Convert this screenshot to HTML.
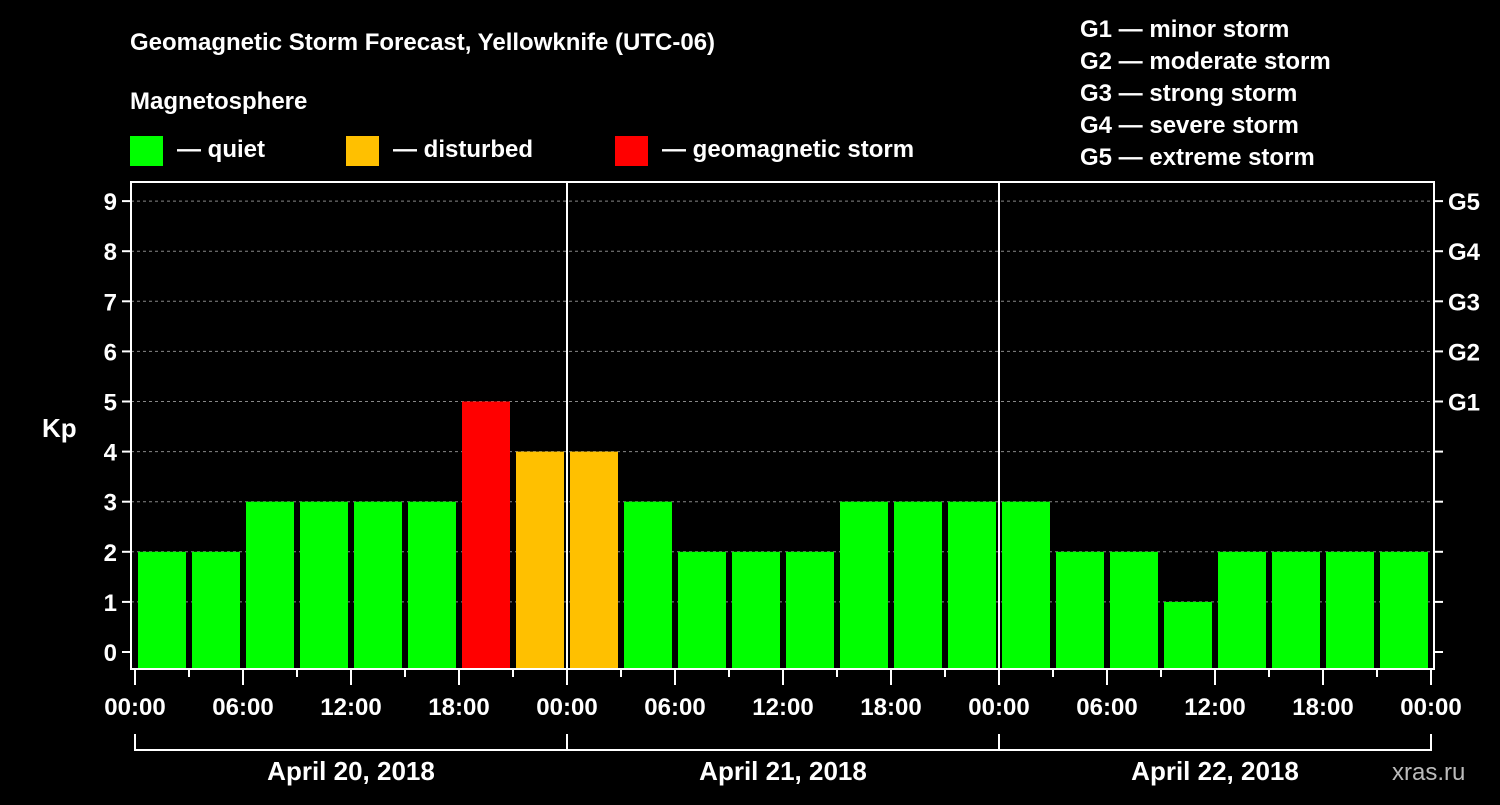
<!DOCTYPE html>
<html><head><meta charset="utf-8"><style>
body{margin:0;background:#000;width:1500px;height:800px;overflow:hidden}
svg text{font-family:"Liberation Sans",sans-serif;font-weight:bold;fill:#fff}
</style></head><body>
<svg id="c" width="1500" height="800">
<text x="130" y="50" font-size="24">Geomagnetic Storm Forecast, Yellowknife (UTC-06)</text>
<text x="130" y="109" font-size="24">Magnetosphere</text>
<g><rect x="130" y="136" width="33" height="30" fill="#00ff00"/><text x="177" y="157" font-size="24">— quiet</text></g>
<g><rect x="346" y="136" width="33" height="30" fill="#ffc000"/><text x="393" y="157" font-size="24">— disturbed</text></g>
<g><rect x="615" y="136" width="33" height="30" fill="#ff0000"/><text x="662" y="157" font-size="24">— geomagnetic storm</text></g>
<g font-size="24">
<text x="1080" y="37">G1 — minor storm</text><text x="1080" y="69">G2 — moderate storm</text><text x="1080" y="101">G3 — strong storm</text><text x="1080" y="133">G4 — severe storm</text><text x="1080" y="165">G5 — extreme storm</text></g>
<text x="42" y="437" font-size="26">Kp</text>
<text x="1392" y="780" font-size="24" fill="#bbb" style="fill:#bbb;font-weight:normal">xras.ru</text>
<g id="plot"></g>
</svg>
<script>
const kpValues=[2,2,3,3,3,3,5,4,4,3,2,2,2,3,3,3,3,2,2,1,2,2,2,2];
const timeLabels=["00:00","06:00","12:00","18:00","00:00","06:00","12:00","18:00","00:00","06:00","12:00","18:00","00:00"];
const dayLabels=["April 20, 2018","April 21, 2018","April 22, 2018"];
const gLabels=["G1","G2","G3","G4","G5"];
const NS="http://www.w3.org/2000/svg";
const g=document.getElementById('plot');
const x0=135,slot=54,L=131,R=1434,T=182,B=669;
const x=i=>x0+i*slot;
const y=k=>652-50.1*k;
function mk(t,a,p){const e=document.createElementNS(NS,t);for(const k in a)e.setAttribute(k,a[k]);(p||g).appendChild(e);return e;}
for(let k=0;k<=9;k++){
 if(k>0){const gl=mk('line',{x1:L,x2:R,y1:y(k),y2:y(k),stroke:'#888','stroke-dasharray':'3,3','stroke-width':1});
 
 }
 mk('line',{x1:L-9,x2:L,y1:y(k),y2:y(k),stroke:'#fff','stroke-width':2});
 mk('line',{x1:R,x2:R+9,y1:y(k),y2:y(k),stroke:'#fff','stroke-width':2});
 const t=mk('text',{x:L-14,y:y(k)+9,'text-anchor':'end','font-size':24});t.textContent=k;
 
 
}
gLabels.forEach((s,i)=>{const t=mk('text',{x:R+14,y:y(i+5)+9,'font-size':24});t.textContent=s;
 
 });
kpValues.forEach((v,i)=>{
 const c=v>=5?'#ff0000':v>=4?'#ffc000':'#00ff00';
 const r=mk('rect',{x:x(i)+3,y:y(v),width:48,height:B-y(v),fill:c});
 
 
});
mk('rect',{x:L,y:T,width:R-L,height:B-T,fill:'none',stroke:'#fff','stroke-width':2});
[8,16].forEach(i=>{const d=mk('line',{x1:x(i),x2:x(i),y1:T,y2:B,stroke:'#fff','stroke-width':2});
 
 });
for(let i=0;i<=24;i++){mk('line',{x1:x(i),x2:x(i),y1:B,y2:i%2?677:685,stroke:'#fff','stroke-width':2});}
timeLabels.forEach((s,i)=>{const t=mk('text',{x:x(i*2),y:715,'text-anchor':'middle','font-size':24});t.textContent=s;
 
 });
mk('path',{d:`M${x(0)},734V750H${x(24)}V734M${x(8)},734V750M${x(16)},734V750`,fill:'none',stroke:'#fff','stroke-width':2});
dayLabels.forEach((s,i)=>{const t=mk('text',{x:x(i*8+4),y:780,'text-anchor':'middle','font-size':26});t.textContent=s;
 
 });
</script>
</body></html>
